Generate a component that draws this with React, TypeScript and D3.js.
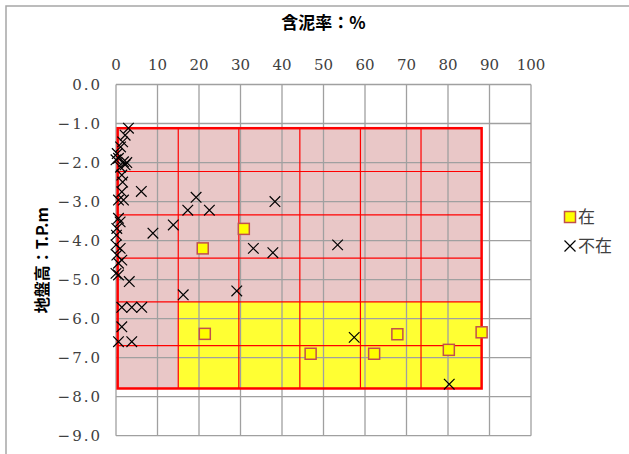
import * as d3 from 'd3';

// 含泥率 (%) / 地盤高 (T.P.m)
const presentPoints: [number, number][] = [
    [20.9, -4.2], [30.8, -3.7], [21.4, -6.39], [46.9, -6.9],
    [62.2, -6.9], [67.8, -6.4], [80.2, -6.8], [88.1, -6.35],
];

const absentPoints: [number, number][] = [
    [3.0, -1.12], [2.2, -1.3], [1.6, -1.47], [1.1, -1.6], [0.3, -1.77],
    [0.0, -1.93], [0.6, -1.89], [1.8, -1.98], [2.6, -2.0], [2.2, -2.06],
    [1.1, -2.12], [1.4, -2.32], [1.6, -2.5], [1.4, -2.75], [6.1, -2.74],
    [1.8, -2.96], [0.6, -2.96], [0.6, -3.43], [1.0, -3.52], [0.2, -3.69],
    [0.1, -3.86], [0.0, -4.11], [1.0, -4.2], [0.2, -4.37], [1.4, -4.5],
    [0.6, -4.58], [0.0, -4.84], [0.6, -4.88], [3.2, -5.05], [1.4, -5.71],
    [3.8, -5.71], [6.2, -5.71], [1.4, -6.21], [0.6, -6.59], [3.8, -6.59],
    [8.9, -3.81], [13.8, -3.6], [17.3, -3.22], [19.3, -2.89], [22.5, -3.22],
    [38.3, -3.0], [33.1, -4.2], [37.8, -4.31], [53.4, -4.11], [16.2, -5.39],
    [29.1, -5.29], [57.4, -6.48], [80.3, -7.68],
];

const xTicks = d3.range(0, 101, 10);
const yTicks = d3.range(0, -9.5, -1);

// red zone grid (6 x 6 cells), lower-right block is the yellow zone
const zoneX = [0.4, 15.0, 29.6, 44.3, 58.9, 73.5, 88.1];
const zoneY = [-1.12, -2.23, -3.34, -4.45, -5.57, -6.69, -7.79];
const yellowX: [number, number] = [15.0, 88.1];
const yellowY: [number, number] = [-5.57, -7.79];

const legendItems = ['在', '不在'];

const width = 629;
const height = 454;
const margin = { left: 116, right: 98, top: 84.5, bottom: 18.3 };

const numFont = 'DejaVu Serif';
const jpFont = 'Noto Sans CJK JP';

const Cross = ({ x, y, r = 5.3 }: { x: number; y: number; r?: number }) => (
    <path
        d={`M${x - r},${y - r}L${x + r},${y + r}M${x - r},${y + r}L${x + r},${y - r}`}
        stroke="#000"
        strokeWidth={1.2}
        fill="none"
    />
);

const Square = ({ x, y, s = 11 }: { x: number; y: number; s?: number }) => (
    <rect
        x={x - s / 2}
        y={y - s / 2}
        width={s}
        height={s}
        fill="#FFFF00"
        stroke="#C0504D"
        strokeWidth={1.5}
    />
);

export default function App() {
    const xScale = d3.scaleLinear().domain([0, 100]).range([margin.left, width - margin.right]);
    const yScale = d3.scaleLinear().domain([0, -9]).range([margin.top, height - margin.bottom]);
    const fmt = d3.format('.1f');

    const x0 = xScale(zoneX[0]);
    const x1 = xScale(zoneX[zoneX.length - 1]);
    const y0 = yScale(zoneY[0]);
    const y1 = yScale(zoneY[zoneY.length - 1]);

    return (
        <svg
            width={width}
            height={height}
            style={{ position: 'absolute', left: 0, top: 0, background: '#fff' }}
        >
            <rect x={6} y={6} width={width + 20} height={height + 20} fill="#fff" stroke="#A6A6A6" strokeWidth={1.5} />

            {/* zone fills */}
            <rect x={x0} y={y0} width={x1 - x0} height={y1 - y0} fill="#E9C7C7" />
            <rect
                x={xScale(yellowX[0])}
                y={yScale(yellowY[0])}
                width={xScale(yellowX[1]) - xScale(yellowX[0])}
                height={yScale(yellowY[1]) - yScale(yellowY[0])}
                fill="#FFFF33"
            />

            {/* gridlines */}
            <g stroke="#A0A0A0" strokeWidth={1.3}>
                {xTicks.map((t) => (
                    <line key={'gx' + t} x1={xScale(t)} x2={xScale(t)} y1={yScale(0)} y2={yScale(-9)} />
                ))}
                {yTicks.map((t) => (
                    <line key={'gy' + t} x1={xScale(0)} x2={xScale(100)} y1={yScale(t)} y2={yScale(t)} />
                ))}
            </g>

            {/* zone lines */}
            <g stroke="#FF0000" strokeWidth={1.2}>
                {zoneX.slice(1, -1).map((v) => (
                    <line key={'zx' + v} x1={xScale(v)} x2={xScale(v)} y1={y0} y2={y1} />
                ))}
                {zoneY.slice(1, -1).map((v) => (
                    <line key={'zy' + v} x1={x0} x2={x1} y1={yScale(v)} y2={yScale(v)} />
                ))}
            </g>
            <rect x={x0} y={y0} width={x1 - x0} height={y1 - y0} fill="none" stroke="#FF0000" strokeWidth={2.5} />

            {/* tick labels */}
            {xTicks.map((t) => (
                <text
                    key={'tx' + t}
                    x={xScale(t)}
                    y={70}
                    textAnchor="middle"
                    fontFamily={numFont}
                    fontSize={15}
                    fill="#404040"
                >
                    {t}
                </text>
            ))}
            {yTicks.map((t) => (
                <text
                    key={'ty' + t}
                    x={xScale(0) - 14}
                    y={yScale(t)}
                    dy="0.35em"
                    textAnchor="end"
                    letterSpacing={2}
                    fontFamily={numFont}
                    fontSize={15}
                    fill="#404040"
                >
                    {fmt(t === 0 ? 0 : t)}
                </text>
            ))}

            {/* markers */}
            {absentPoints.map(([px, py], i) => (
                <Cross key={'a' + i} x={xScale(px)} y={yScale(py)} />
            ))}
            {presentPoints.map(([px, py], i) => (
                <Square key={'p' + i} x={xScale(px)} y={yScale(py)} />
            ))}

            {/* titles */}
            <text
                x={(xScale(0) + xScale(100)) / 2}
                y={29}
                textAnchor="middle"
                fontFamily={jpFont}
                fontWeight="bold"
                fontSize={17}
            >
                含泥率：%
            </text>
            <text
                transform={`translate(48,${(yScale(0) + yScale(-9)) / 2}) rotate(-90)`}
                textAnchor="middle"
                fontFamily={jpFont}
                fontWeight="bold"
                fontSize={16}
            >
                地盤高：T.P.m
            </text>

            {/* legend */}
            <Square x={570} y={217} s={11} />
            <Cross x={570} y={246} r={5.5} />
            {legendItems.map((d, i) => (
                <text key={d} x={578} y={217 + i * 29} dy="0.36em" fontFamily={jpFont} fontSize={17} fill="#404040">
                    {d}
                </text>
            ))}
        </svg>
    );
}
